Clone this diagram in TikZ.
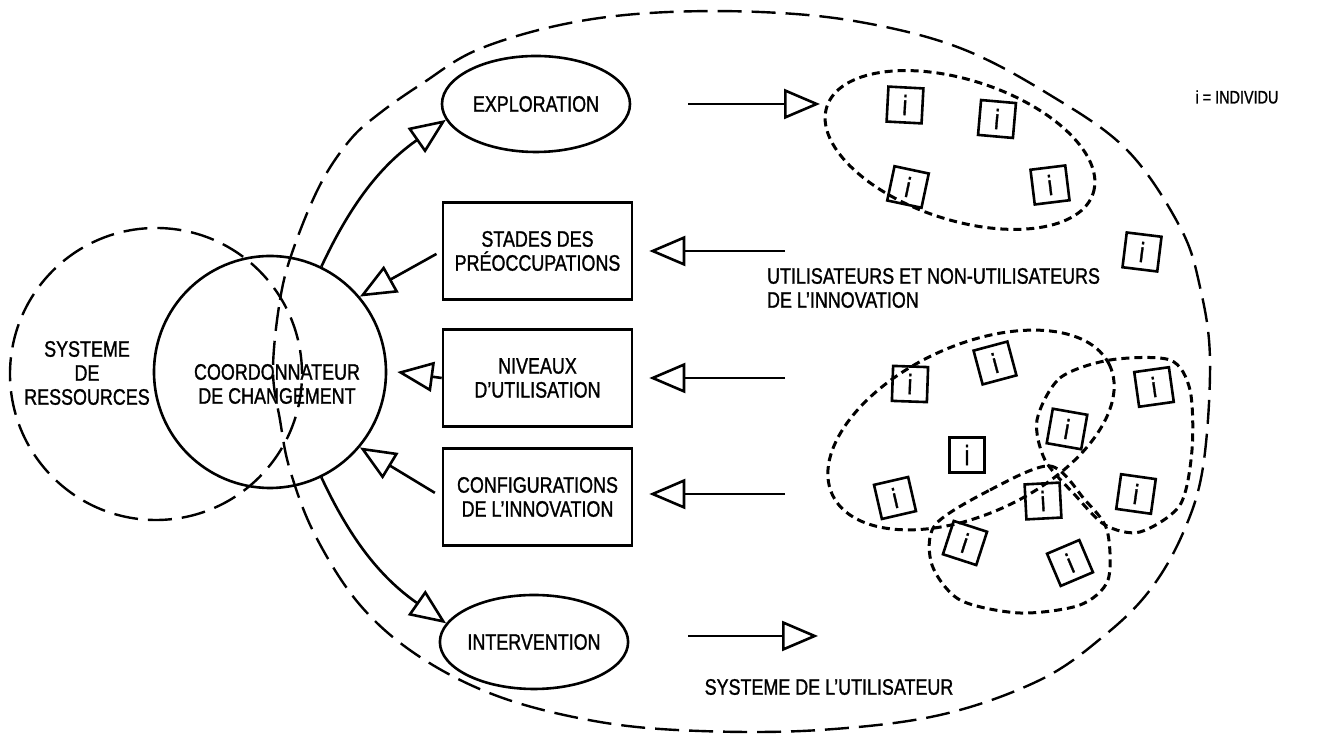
\documentclass[tikz,border=0pt]{standalone}
\usepackage{fontspec}
\setmainfont{Liberation Sans}[FakeStretch=0.8, FakeBold=1.2]
\usetikzlibrary{arrows.meta,shapes.geometric}

\begin{document}
\begin{tikzpicture}[x=0.5pt, y=0.5pt,
    font=\fontsize{11.2}{12}\selectfont,
    bigdash/.style={line width=1.2pt, dash pattern=on 12pt off 5pt},
    smalldash/.style={line width=1.5pt, dash pattern=on 4pt off 2.5pt},
    procbox/.style={draw, line width=1.3pt, minimum width=94.5pt, minimum height=48.5pt, align=center},
    procell/.style={draw, ellipse, line width=1.3pt, minimum width=94pt, minimum height=48pt, inner sep=0pt},
    cluster/.style={draw, ellipse, smalldash, inner sep=0pt},
    indiv/.style={draw, line width=1.3pt, minimum size=17.5pt, inner sep=0pt, font=\fontsize{14}{14}\selectfont},
    openarrow/.style={line width=1.3pt, -{Triangle[open, length=18pt, width=15pt]}}]
    \useasboundingbox (0,0) rectangle (1340,738);

    % systeme de l'utilisateur
    \draw[bigdash] plot[smooth cycle, tension=0.6] coordinates {
      (273,368) (280,438) (293,488) (320,553) (350,598) (380,625) (423,655)
      (477,688) (560,713) (650,725) (760,726) (860,716) (960,690) (1050,643)
      (1127,588) (1180,511) (1200,451) (1210,378) (1203,271) (1183,205)
      (1150,148) (1105,103) (1040,58) (940,23) (820,8) (700,7) (600,16)
      (500,41) (420,81) (360,133) (315,203) (290,268) (280,318)};

    % ressources et coordonnateur
    \node (ressources) at (156,364) [circle, draw, bigdash, minimum size=146pt] {};
    \node (coordo) at (270,366) [circle, draw, line width=1.3pt, minimum size=116pt] {};
    \node (ressTxt) at (87,365) [align=center] {SYSTEME\\DE\\RESSOURCES};
    \node (coordTxt) at (277,354) [align=center] {COORDONNATEUR\\DE CHANGEMENT};

    % outils
    \node (explo) at (536,634) [procell] {EXPLORATION};
    \node (stades) at (537.5,487) [procbox] {STADES DES\\PRÉOCCUPATIONS};
    \node (niveaux) at (537.5,360) [procbox] {NIVEAUX\\D'UTILISATION};
    \node (configs) at (537.5,241) [procbox] {CONFIGURATIONS\\DE L'INNOVATION};
    \node (interv) at (534,96) [procell, minimum width=92pt, minimum height=47pt] {INTERVENTION};

    \coordinate (exploOut) at (688,634);
    \coordinate (exploIn) at (820,634);
    \coordinate (intervOut) at (688,102);
    \coordinate (intervIn) at (818,102);
    \coordinate (fromS) at (785,487);
    \coordinate (fromN) at (785,360);
    \coordinate (fromC) at (785,244);

    \draw[openarrow] (coordo.64) to[out=65, in=215] (explo.190);
    \draw[openarrow] (coordo.-64) to[out=-65, in=145] (interv.168);
    \draw[openarrow] (exploOut) -- (exploIn);
    \draw[openarrow] (intervOut) -- (intervIn);
    \draw[openarrow] (fromS) -- ([xshift=8pt]stades.east);
    \draw[openarrow] (fromN) -- ([xshift=8pt]niveaux.east);
    \draw[openarrow] (fromC) -- ([xshift=8pt]configs.east |- fromC);
    \draw[openarrow, shorten <=3pt] (stades.west) -- (coordo.40);
    \draw[openarrow] (niveaux.west) -- ([xshift=5pt]coordo.east);
    \draw[openarrow, shorten <=4pt] (configs.west) -- (coordo.-40);

    % individus
    \node (grpA) at (960,588) [cluster, minimum width=140pt, minimum height=70pt, rotate=-18] {};
    \node (a1) at (905,633) [indiv, rotate=-3] {i};
    \node (a2) at (997,619) [indiv, rotate=-5] {i};
    \node (a3) at (908,551) [indiv, rotate=-12] {i};
    \node (a4) at (1050,553) [indiv, rotate=7] {i};
    \node (seul) at (1142,486) [indiv, rotate=-7] {i};

    \node (grpB) at (971,308) [cluster, minimum width=153pt, minimum height=84pt, rotate=25] {};
    \draw[smalldash] plot[smooth cycle] coordinates {
      (1037,318) (1060,360) (1110,378) (1170,378) (1190,348) (1192,288)
      (1180,233) (1140,206) (1105,213) (1075,243) (1045,278)};
    \draw[smalldash] plot[smooth cycle] coordinates {
      (935,213) (990,248) (1050,272) (1085,238) (1107,208) (1108,158)
      (1080,133) (1020,125) (960,138) (932,173)};
    \node (b1) at (910,354) [indiv, rotate=-2] {i};
    \node (b2) at (995,375) [indiv, rotate=15] {i};
    \node (b3) at (967,283) [indiv] {i};
    \node (b4) at (895,240) [indiv, rotate=13] {i};
    \node (b5) at (1067,309) [indiv, rotate=-10] {i};
    \node (b6) at (1154,351) [indiv, rotate=8] {i};
    \node (b7) at (1043,237) [indiv, rotate=3] {i};
    \node (b8) at (1136,244) [indiv, rotate=-8] {i};
    \node (b9) at (965,195) [indiv, rotate=-18] {i};
    \node (b10) at (1070,175) [indiv, rotate=23] {i};

    % textes
    \node (utilTxt) at (760,450) [anchor=west, align=left] {UTILISATEURS ET NON-UTILISATEURS\\DE L'INNOVATION};
    \node (systTxt) at (829,51) {SYSTEME DE L'UTILISATEUR};
    \node (legende) at (1237,641) [font=\fontsize{9}{10}\selectfont] {i = INDIVIDU};
\end{tikzpicture}
\end{document}
